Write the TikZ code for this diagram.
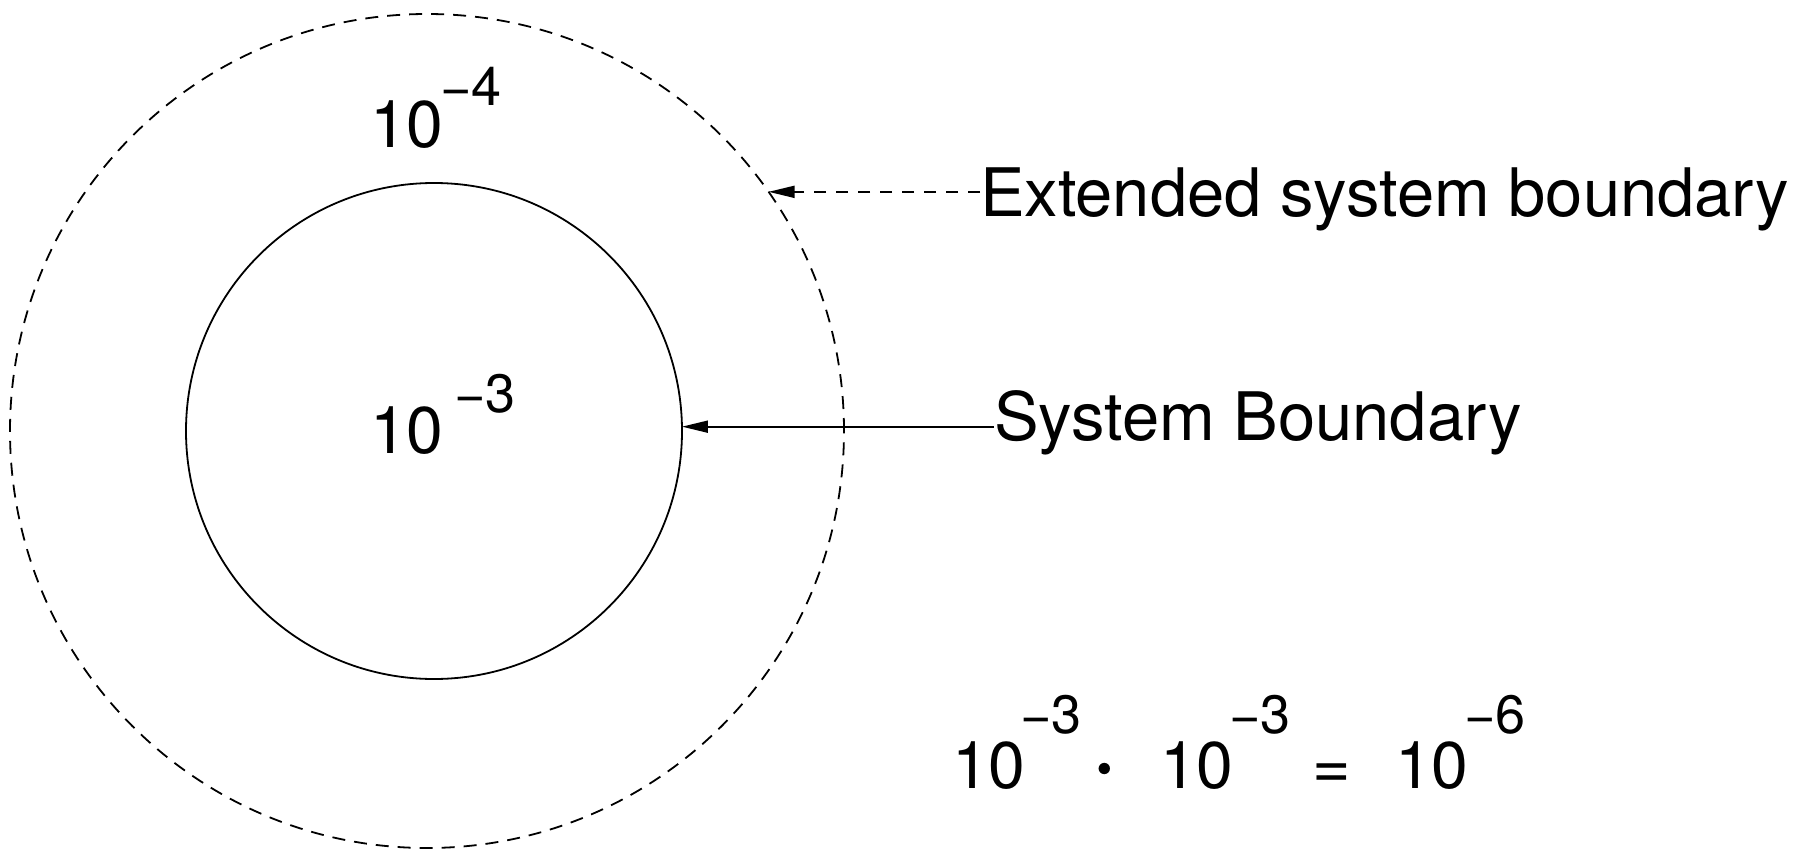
\documentclass[tikz,border=0pt]{standalone}
\usepackage{fontspec}
\setmainfont{TeX Gyre Heros}
\usetikzlibrary{arrows.meta}
\begin{document}
\begin{tikzpicture}[x=1pt,y=-1pt,
  lbl/.style={inner sep=0pt, outer sep=0pt, anchor=base west, font=\fontsize{66}{79}\selectfont},
  side/.style={lbl, font=\fontsize{66.9}{80}\selectfont},
  expo/.style={inner sep=0pt, outer sep=0pt, anchor=base west, font=\fontsize{54}{65}\selectfont},
  ring/.style={circle, draw, line width=1.8pt, inner sep=0pt, outer sep=0pt},
  dashring/.style={ring, dash pattern=on 13pt off 9pt},
  ptr/.style={line width=1.8pt, -{Triangle[length=26pt,width=12pt]}},
  dashptr/.style={ptr, dash pattern=on 12pt off 10pt}]
\useasboundingbox (0,0) rectangle (1802,851);
% circles
\node[dashring, minimum size=834pt] (outer) at (427,431) {};
\node[ring, minimum size=496pt] (inner) at (434,431) {};
% circle labels
\node[lbl]  (n4) at (370,147) {10};
\node[expo] (e4) at (440,105) {−4};
\node[lbl]  (n3) at (370,453) {10};
\node[expo] (e3) at (454,412) {−3};
% side texts
\node[side] (ext) at (980,216) {Extended system boundary};
\node[side] (sys) at (994,440) {System Boundary};
% pointers
\draw[dashptr] (ext.west |- outer.35.5) -- (outer.35.5);
\draw[ptr] (sys.west |- inner.1.4) -- (inner.1.4);
% equation
\node[lbl]  (q1) at (952,788) {10};
\node[expo] (q1e) at (1020,733) {−3};
\node[inner sep=0pt, outer sep=0pt, anchor=base west, font=\fontsize{110}{112}\selectfont] (dot) at (1089,796) {·};
\node[lbl]  (q2) at (1160,788) {10};
\node[expo] (q2e) at (1229,733) {−3};
\node[lbl]  (eq) at (1312,788) {=};
\node[lbl]  (q3) at (1395,788) {10};
\node[expo] (q3e) at (1464,733) {−6};
\end{tikzpicture}
\end{document}
